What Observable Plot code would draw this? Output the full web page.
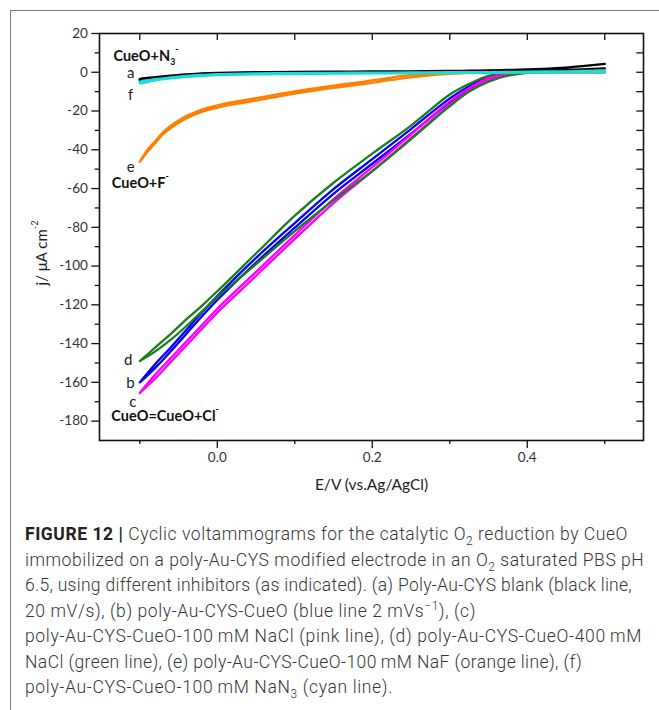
<!DOCTYPE html>
<html>
<head>
<meta charset="utf-8">
<script src="https://cdn.jsdelivr.net/npm/d3@7"></script>
<script src="https://cdn.jsdelivr.net/npm/@observablehq/plot@0.6"></script>
<style>
  html, body { margin: 0; padding: 0; background: #fff; overflow: hidden; }
  #page { position: relative; width: 659px; height: 710px; }
  #border { position: absolute; left: 10px; top: 10px; width: 700px; height: 720px;
            border-left: 1.4px solid #7a7a7a; border-top: 1.4px solid #7a7a7a; }
  #chart { position: absolute; left: 0; top: 0; }
  #caption { position: absolute; left: 25px; top: 522px; width: 634px;
             font-family: Roboto, "Noto Sans", sans-serif; font-weight: 300;
             font-size: 17.5px; line-height: 25.5px; color: #363636; }
  #caption div { white-space: nowrap; width: max-content; }
  #caption b { font-weight: 700; color: #222; }
  #caption sub, #caption sup { font-size: 0.68em; line-height: 0; }
</style>
</head>
<body>
<div id="page">
  <div id="border"></div>
  <div id="chart"></div>
  <div id="caption">
    <div data-end="628"><b>FIGURE 12 |</b> Cyclic voltammograms for the catalytic O<sub>2</sub> reduction by CueO</div>
    <div data-end="644">immobilized on a poly-Au-CYS modified electrode in an O<sub>2</sub> saturated PBS pH</div>
    <div data-end="632">6.5, using different inhibitors (as indicated). (a) Poly-Au-CYS blank (black line,</div>
    <div data-end="476">20 mV/s), (b) poly-Au-CYS-CueO (blue line 2 mVs<sup>−1</sup>), (c)</div>
    <div data-end="642">poly-Au-CYS-CueO-100&thinsp;mM NaCl (pink line), (d) poly-Au-CYS-CueO-400&thinsp;mM</div>
    <div data-end="582">NaCl (green line), (e) poly-Au-CYS-CueO-100&thinsp;mM NaF (orange line), (f)</div>
    <div data-end="393">poly-Au-CYS-CueO-100&thinsp;mM NaN<sub>3</sub> (cyan line).</div>
  </div>
</div>
<script>
// Potential grid (V vs Ag/AgCl) shared by the enzyme voltammograms
const scanE = [-0.1, -0.08, -0.06, -0.04, -0.02, 0, 0.05, 0.1, 0.15, 0.2, 0.25, 0.3, 0.325, 0.35, 0.375, 0.4, 0.45, 0.5];

// Current density (µA cm-2): cathodic sweep and anodic sweep, on scanE
const blankCathodic = [-4.0, -3.0, -2.2, -1.6, -1.1, -0.8, -0.4, -0.2, -0.1, 0, 0.1, 0.2, 0.3, 0.4, 0.6, 0.8, 1.2, 2.0];
const blankAnodic   = [-3.5, -2.5, -1.7, -1.1, -0.6, -0.3, 0, 0.15, 0.3, 0.4, 0.5, 0.7, 0.8, 1.0, 1.2, 1.5, 2.4, 4.3];

const cueoCathodic  = [-160, -152.5, -144, -135, -126, -117.5, -98.2, -80.2, -62.7, -47.2, -31.7, -15.5, -8.8, -3.6, -1.0, 0, 0.3, 0.8];
const cueoAnodic    = [-160, -150.5, -142, -133, -124, -115.5, -95.8, -77.8, -60.3, -44.8, -29.3, -13.5, -7.2, -2.4, -0.4, 0, 0.3, 0.8];

const nacl100Cathodic = [-165.5, -158, -149.5, -141, -132.5, -124, -105, -86, -67.5, -51, -34, -17, -9.8, -4.2, -1.3, -0.2, 0.2, 0.5];
const nacl100Anodic   = [-165.5, -156, -147.5, -139, -130.5, -122, -103, -84, -65.5, -49, -32, -15, -8.2, -3.0, -0.7, 0, 0.2, 0.5];

const nacl400Cathodic = [-149, -144, -138, -131, -123.5, -116, -99, -82, -66, -51, -34.5, -17.5, -10, -4.8, -1.8, -0.3, 0.1, 0.4];
const nacl400Anodic   = [-149, -142, -135, -127.5, -120.5, -113, -93.5, -74, -57, -42, -27.5, -11.5, -6, -1.8, -0.2, 0, 0.2, 0.5];

const nan3Cathodic = [-5.6, -4.2, -3.2, -2.4, -1.9, -1.5, -1.1, -0.9, -0.7, -0.6, -0.5, -0.4, -0.3, -0.3, -0.2, -0.2, -0.1, 0];
const nan3Anodic   = [-4.9, -3.6, -2.6, -1.9, -1.4, -1.0, -0.6, -0.4, -0.3, -0.2, -0.1, 0, 0, 0.1, 0.2, 0.3, 0.5, 0.9];

// NaF run on a finer grid near the negative end
const nafE = [-0.1, -0.09, -0.08, -0.07, -0.06, -0.05, -0.04, -0.02, 0, 0.02, 0.05, 0.08, 0.11, 0.15, 0.19, 0.22, 0.25, 0.28, 0.32, 0.4, 0.5];
const nafCathodic = [-46.2, -41.0, -36.5, -32.0, -28.8, -26.1, -23.8, -20.4, -18.3, -16.6, -14.6, -12.4, -10.4, -8.1, -6.0, -4.2, -2.6, -1.3, -0.4, -0.1, -0.3];
const nafAnodic   = [-46.2, -40.0, -35.5, -31.0, -27.6, -24.9, -22.6, -19.2, -17.1, -15.4, -13.4, -11.2, -9.2, -6.9, -4.8, -3.0, -1.4, -0.5, 0, 0.1, -0.1];

// Axis ticks
const xMajor = [0, 0.2, 0.4];
const xMinor = [-0.1, 0.1, 0.3, 0.5];
const yMajor = [-180, -160, -140, -120, -100, -80, -60, -40, -20, 0, 20];
const yMinor = [-170, -150, -130, -110, -90, -70, -50, -30, -10, 10];

const seriesNames  = ["a", "b", "c", "d", "e", "f"];
const seriesColors = ["#000000", "#0000ff", "#ff00ff", "#1b7d1b", "#ff7f00", "#19dcdc"];

// Curve letters and inhibitor annotations
const letterLabels = [
  {x: -0.1117, y: -0.3, label: "a"},
  {x: -0.1117, y: -12, label: "f"},
  {x: -0.1117, y: -49, label: "e"},
  {x: -0.115, y: -148.4, label: "d"},
  {x: -0.112, y: -160.4, label: "b"},
  {x: -0.109, y: -170.2, label: "c"}
];
const groupLabels = [
  {x: -0.134, y: 8.3, label: "CueO+N_{3}^{-}"},
  {x: -0.1362, y: -57.4, label: "CueO+F^{-}"},
  {x: -0.1368, y: -177.4, label: "CueO=CueO+Cl^{-}"}
];

// One closed loop per run: cathodic sweep 0.5 → -0.1 V, then anodic sweep back
function loop(name, E, cathodic, anodic) {
  const rows = [];
  for (let i = E.length - 1; i >= 0; --i) rows.push({run: name, E: E[i], j: cathodic[i]});
  for (let i = 0; i < E.length; ++i) rows.push({run: name, E: E[i], j: anodic[i]});
  return rows;
}
const runs = [
  loop("b", scanE, cueoCathodic, cueoAnodic),
  loop("c", scanE, nacl100Cathodic, nacl100Anodic),
  loop("d", scanE, nacl400Cathodic, nacl400Anodic),
  loop("e", nafE, nafCathodic, nafAnodic),
  loop("a", scanE, blankCathodic, blankAnodic),
  loop("f", scanE, nan3Cathodic, nan3Anodic)
];

const chart = Plot.plot({
  width: 659,
  height: 510,
  marginLeft: 99,
  marginRight: 16,
  marginTop: 33,
  marginBottom: 70,
  x: {domain: [-0.152, 0.55], label: null},
  y: {domain: [-190, 20], label: null},
  color: {domain: seriesNames, range: seriesColors},
  style: {fontFamily: "Lato, 'Open Sans', sans-serif", fontSize: "13.5px", color: "#333", background: "transparent"},
  marks: [
    // outward ticks, bottom and left
    Plot.axisX(xMajor, {anchor: "bottom", tickSize: 8, tickPadding: 4, stroke: "#111", strokeWidth: 1.3, tickFormat: d => d.toFixed(1), label: null, fontSize: 13.5}),
    Plot.axisX(xMinor, {anchor: "bottom", tickSize: 4, stroke: "#111", strokeWidth: 1.3, tickFormat: () => "", label: null}),
    Plot.axisY(yMajor, {anchor: "left", tickSize: 7.7, tickPadding: 4, stroke: "#111", strokeWidth: 1.3, tickFormat: d => String(d), label: null, fontSize: 13.5}),
    Plot.axisY(yMinor, {anchor: "left", tickSize: 4.3, stroke: "#111", strokeWidth: 1.3, tickFormat: () => "", label: null}),
    // inward ticks, top and right
    Plot.ruleX(xMajor.concat(xMinor), {insetBottom: 400, stroke: "#111", strokeWidth: 1.3}),
    Plot.ruleY(yMajor.concat(yMinor).filter(v => v < 20), {insetLeft: 537.3, stroke: "#111", strokeWidth: 1.3}),
    // voltammograms
    ...runs.map(rows => Plot.line(rows, {x: "E", y: "j", stroke: "run", strokeWidth: 2.3, curve: "catmull-rom"})),
    Plot.frame({stroke: "#111", strokeWidth: 1.6}),
    Plot.text(letterLabels, {x: "x", y: "y", text: "label", fontSize: 15, fill: "#222"}),
    Plot.text(groupLabels, {x: "x", y: "y", text: "label", textAnchor: "start", fontSize: 14.5, fontWeight: "bold", fill: "#111"}),
    Plot.text(["E/V (vs.Ag/AgCl)"], {text: d => d, frameAnchor: "bottom", dy: 49, fontSize: 15.5, fill: "#222"})
  ]
});
document.getElementById("chart").appendChild(chart);

// y-axis title, rotated alongside the axis
d3.select(chart).append("text")
  .attr("transform", "translate(47,253) rotate(-90)")
  .attr("text-anchor", "middle")
  .attr("font-family", "Lato, 'Open Sans', sans-serif")
  .attr("font-size", 15)
  .attr("fill", "#222")
  .text("j/ μA cm^{-2}");

// Turn _{..} and ^{..} markup into subscript / superscript tspans
for (const el of chart.querySelectorAll("text")) {
  const src = el.textContent;
  if (!/[_^]\{/.test(src)) continue;
  const fs = parseFloat(getComputedStyle(el).fontSize) || 14;
  el.textContent = "";
  let shift = 0;
  for (const m of src.matchAll(/([_^])\{([^}]*)\}|[^_^]+/g)) {
    const t = document.createElementNS("http://www.w3.org/2000/svg", "tspan");
    let target = 0;
    if (m[1] === "_") { target = 0.3 * fs; t.setAttribute("font-size", 0.6 * fs); }
    else if (m[1] === "^") { target = -0.62 * fs; t.setAttribute("font-size", 0.6 * fs); }
    t.setAttribute("dy", target - shift);
    shift = target;
    t.textContent = m[1] ? m[2] : m[0];
    el.appendChild(t);
  }
}

// Track each caption line so that it ends at its column position
const captionLeft = 25;
for (const line of document.querySelectorAll("#caption div")) {
  const natural = line.getBoundingClientRect().width;
  const chars = line.textContent.trim().length;
  const target = +line.dataset.end - captionLeft;
  const spacing = Math.max(-0.5, Math.min(1.2, (target - natural) / chars));
  line.style.letterSpacing = spacing.toFixed(3) + "px";
}
</script>
</body>
</html>
